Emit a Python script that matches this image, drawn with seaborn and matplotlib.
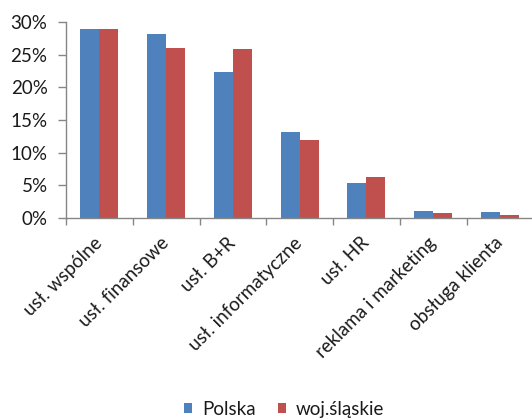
import matplotlib
matplotlib.use("Agg")
import matplotlib.pyplot as plt
from matplotlib.ticker import FixedLocator, FuncFormatter
from matplotlib.patches import Patch
import seaborn as sns
import pandas as pd

categories = ['usł. wspólne', 'usł. finansowe', 'usł. B+R', 'usł. informatyczne',
              'usł. HR', 'reklama i marketing', 'obsługa klienta']
polska = [28.9, 28.2, 22.3, 13.2, 5.4, 1.05, 0.85]
slaskie = [28.9, 26.0, 25.8, 12.0, 6.2, 0.7, 0.45]
series_names = ['Polska', 'woj.śląskie']
colors = ['#4F81BD', '#C0504D']
y_ticks = [0, 5, 10, 15, 20, 25, 30]

df = pd.DataFrame({
    'kategoria': categories * 2,
    'udzial': polska + slaskie,
    'seria': [series_names[0]] * len(categories) + [series_names[1]] * len(categories),
})

sns.set_style('white')
plt.rcParams['font.family'] = ['Lato', 'DejaVu Sans']

W, H = 532, 419
fig = plt.figure(figsize=(W / 100, H / 100), dpi=100)
left, right, top, bottom = 66, 533.3, 22, 218
ax = fig.add_axes([left / W, 1 - bottom / H, (right - left) / W, (bottom - top) / H])

sns.barplot(data=df, x='kategoria', y='udzial', hue='seria', order=categories,
            hue_order=series_names, palette=colors, saturation=1, width=0.57,
            ax=ax, legend=False, edgecolor='none')

axis_col = '#868686'
text_col = '#1a1a1a'
fs = 13.5
ax.set_xlim(-0.5, len(categories) - 0.5)
ax.set_ylim(0, 30)
ax.set_xlabel('')
ax.set_ylabel('')

for side in ['top', 'right']:
    ax.spines[side].set_visible(False)
for side in ['left', 'bottom']:
    ax.spines[side].set_color(axis_col)
    ax.spines[side].set_linewidth(1.0)

ax.yaxis.set_major_locator(FixedLocator(y_ticks))
ax.yaxis.set_major_formatter(FuncFormatter(lambda v, p: f'{v:.0f}%'))
ax.tick_params(axis='y', which='major', direction='out', length=5.8, width=1.0,
               color=axis_col, labelsize=fs, labelcolor=text_col, pad=7.5, left=True)

# category labels at bar-group centres, tick marks on category boundaries
ax.set_xticks(range(len(categories)))
ax.set_xticklabels(categories, rotation=45, ha='right', va='center',
                   rotation_mode='anchor')
ax.tick_params(axis='x', which='major', length=0, labelsize=fs, labelcolor=text_col, pad=16)
ax.set_xticks([i - 0.5 for i in range(len(categories) + 1)], minor=True)
ax.tick_params(axis='x', which='minor', direction='out', length=5, width=1.0,
               color=axis_col, bottom=True)

handles = [Patch(facecolor=c, edgecolor='none', label=n) for c, n in zip(colors, series_names)]
fig.legend(handles=handles, loc='center', bbox_to_anchor=(0.534, 1 - 409 / H), ncol=2,
           frameon=False, fontsize=fs, handlelength=0.45, handleheight=0.45,
           handletextpad=0.5, columnspacing=1.2, labelcolor=text_col)

fig.savefig('out.png', dpi=100)
